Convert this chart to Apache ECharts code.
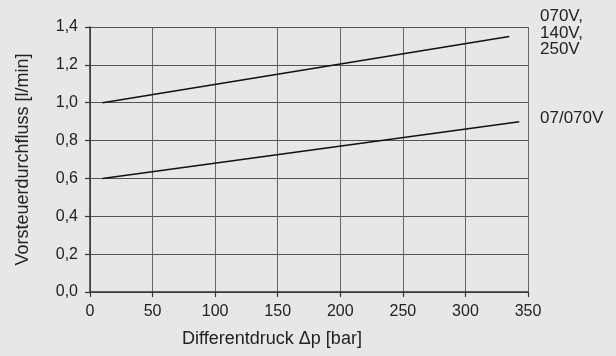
<!DOCTYPE html>
<html>
<head>
<meta charset="utf-8">
<style>
html,body{margin:0;padding:0;background:#e6e7e9;}
#c{width:616px;height:356px;}
</style>
<script src="https://cdn.jsdelivr.net/npm/echarts@6/dist/echarts.min.js"></script>
</head>
<body>
<div id="c"></div>
<script>
// Data
var pressure = [10, 335];            // upper curve x (bar)
var flowUpper = [1.0, 1.35];         // 070V, 140V, 250V
var pressureLower = [10, 343];       // lower curve x (bar)
var flowLower = [0.6, 0.9];          // 07/070V
var upperLabel = '070V,\n140V,\n250V';
var lowerLabel = '07/070V';
var xTitle = 'Differentdruck Δp [bar]';
var yTitle = 'Vorsteuerdurchfluss [l/min]';

var tickFont = '"Liberation Sans", Arial, sans-serif';
var textFont = '"Liberation Sans", Arial, sans-serif';

function pairs(xs, ys){ return xs.map(function(x,i){ return [x, ys[i]]; }); }

var chart = echarts.init(document.getElementById('c'), null, {renderer:'canvas'});
chart.setOption({
  backgroundColor: '#e6e7e9',
  animation: false,
  grid: {left: 90, right: 88, top: 27, bottom: 64},
  xAxis: {
    type: 'value', min: 0, max: 350, interval: 50,
    name: xTitle, nameLocation: 'middle', nameGap: 38,
    nameTextStyle: {fontFamily: textFont, fontSize: 18, color: '#222', padding: [0, 74, 0, 0]},
    axisLine: {show: true, onZero: false, lineStyle: {color: '#333', width: 1.5}},
    axisTick: {show: true, length: 5, inside: false, lineStyle: {color: '#333', width: 1.2}},
    axisLabel: {fontFamily: tickFont, fontSize: 16, color: '#222', margin: 12},
    splitLine: {show: true, lineStyle: {color: '#666', width: 1}}
  },
  yAxis: {
    type: 'value', min: 0, max: 1.4, interval: 0.2,
    name: yTitle, nameLocation: 'middle', nameGap: 58, nameRotate: 90,
    nameTextStyle: {fontFamily: textFont, fontSize: 18, color: '#222'},
    axisLine: {show: true, lineStyle: {color: '#333', width: 1.5}},
    axisTick: {show: true, length: 5, inside: false, lineStyle: {color: '#333', width: 1.2}},
    axisLabel: {fontFamily: tickFont, fontSize: 16, color: '#222', margin: 12,
      formatter: function(v){ return v.toFixed(1).replace('.', ','); }},
    splitLine: {show: true, lineStyle: {color: '#555', width: 1}}
  },
  series: [
    {type: 'line', data: pairs(pressure, flowUpper), symbol: 'none',
     lineStyle: {color: '#111', width: 1.5}},
    {type: 'line', data: pairs(pressureLower, flowLower), symbol: 'none',
     lineStyle: {color: '#111', width: 1.5}}
  ],
  graphic: [
    {type: 'text', left: 540, top: 8,
     style: {text: upperLabel, font: '17px ' + textFont, fill: '#222', lineHeight: 16.5}},
    {type: 'text', left: 540, top: 110,
     style: {text: lowerLabel, font: '17px ' + textFont, fill: '#222'}}
  ]
});
</script>
</body>
</html>
